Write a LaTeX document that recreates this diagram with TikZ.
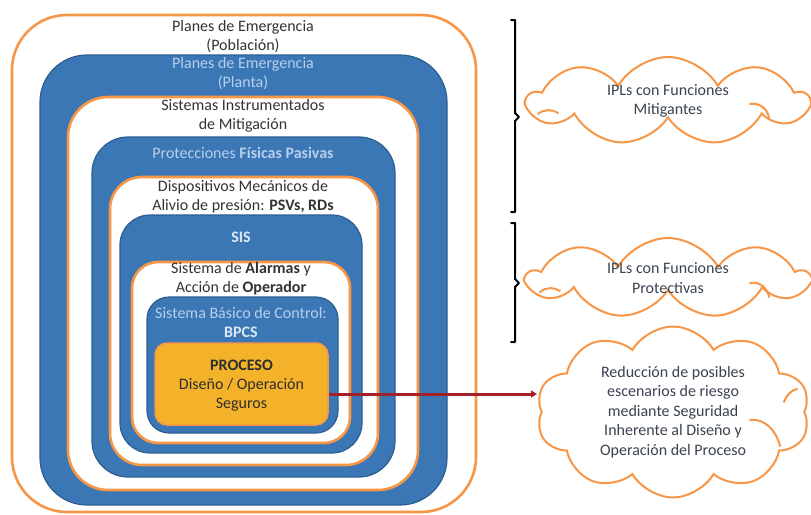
\documentclass[tikz,border=0pt]{standalone}
\usepackage{fontspec}
\setmainfont{Carlito}
\usetikzlibrary{shapes.symbols,arrows.meta,calc}
\definecolor{layerblue}{HTML}{3B77B5}
\definecolor{blueedge}{HTML}{2C5E93}
\definecolor{ringorange}{HTML}{F79646}
\definecolor{procfill}{HTML}{F4B22B}
\definecolor{darktext}{HTML}{333333}
\definecolor{cloudtext}{HTML}{3A4350}
\definecolor{paletext}{HTML}{B7CFEC}
\definecolor{whitish}{HTML}{DCE7F4}
\definecolor{arrowred}{HTML}{A3212B}
\tikzset{
  whitering/.style={draw=ringorange, line width=2.6pt, fill=white},
  bluering/.style={draw=blueedge, line width=1.2pt, fill=layerblue},
  lbl/.style={align=center, font=\fontsize{16}{19}\selectfont, inner sep=0pt},
  darklbl/.style={lbl, text=darktext},
  palelbl/.style={lbl, text=paletext},
  cloudbox/.style={cloud, cloud puffs=9, cloud puff arc=120, cloud ignores aspect,
    draw=ringorange, line width=2pt, fill=white, inner sep=0pt, align=center,
    font=\fontsize{16}{19.5}\selectfont, text=cloudtext},
  curl/.style={draw=ringorange, line width=2pt, line cap=round},
  bracketline/.style={draw=black, line width=2pt, line cap=round, line join=round},
}
\begin{document}
\begin{tikzpicture}[x=1pt,y=-1pt]
\useasboundingbox (0,0) rectangle (811,514);

% nested protection layers, outermost first
\draw[whitering, rounded corners=55pt] (12,15) rectangle (476,512);
\draw[bluering, rounded corners=47pt] (40,55) rectangle (447,505);
\draw[whitering, rounded corners=40pt] (68,97) rectangle (418,490);
\draw[bluering, rounded corners=36pt] (92,137) rectangle (395,477);
\draw[whitering, rounded corners=32pt] (110,177) rectangle (378,465);
\draw[bluering, rounded corners=30pt] (120,215) rectangle (362,453);
\draw[whitering, rounded corners=26pt] (132,262) rectangle (350,443);
\draw[bluering, rounded corners=22pt] (147,297) rectangle (338,433);

% process core
\node[draw=ringorange, line width=1.5pt, fill=procfill, rounded corners=12pt,
      minimum width=173pt, minimum height=82pt, inner sep=0pt] (proc) at (241.5,384) {};
\node[darklbl, text=black!82] (proct) at (241.5,386)
  {\textbf{PROCESO}\\Diseño / Operación\\Seguros};

% layer captions
\node[darklbl] (l1) at (243,37) {Planes de Emergencia\\(Población)};
\node[palelbl] (l2) at (243,74) {Planes de Emergencia\\(Planta)};
\node[darklbl] (l3) at (243,116) {Sistemas Instrumentados\\de Mitigación};
\node[palelbl] (l4) at (243,153) {Protecciones \textbf{Físicas Pasivas}};
\node[darklbl] (l5) at (243,197) {Dispositivos Mecánicos de\\Alivio de presión: \textbf{PSVs, RDs}};
\node[lbl, text=whitish] (l6) at (241,237) {\textbf{SIS}};
\node[darklbl] (l7) at (241,279) {Sistema de \textbf{Alarmas} y\\Acción de \textbf{Operador}};
\node[palelbl] (l8) at (241,322) {Sistema Básico de Control:\\\textcolor{whitish}{\textbf{BPCS}}};

% grouping brackets
\draw[bracketline] (511,20) -- (515,20) -- (515,113) -- (519,117) -- (515,121) -- (515,212) -- (511,212);
\draw[bracketline] (511,223) -- (515,223) -- (515,279) -- (519,283) -- (515,287) -- (515,342) -- (511,342);

% callout clouds
\node[cloudbox, minimum width=280pt, minimum height=88pt] (c1) at (668,101)
  {IPLs con Funciones\\Mitigantes};
\node[cloudbox, minimum width=280pt, minimum height=80pt] (c2) at (668,278)
  {IPLs con Funciones\\Protectivas};
\node[cloudbox, cloud puffs=10, minimum width=273pt, minimum height=171pt] (c3) at (673,412)
  {Reducción de posibles\\escenarios de riesgo\\mediante Seguridad\\Inherente al Diseño y\\Operación del Proceso};

% inner curls of the clouds
\draw[curl] (538,114) .. controls (544,109) and (552,109) .. (558,113);
\draw[curl] (750,104) .. controls (760,102) and (768,110) .. (769,118);
\draw[curl] (540,292) .. controls (546,287) and (554,287) .. (560,291);
\draw[curl] (750,283) .. controls (760,281) and (768,289) .. (769,297);
\draw[curl] (750,420) .. controls (764,418) and (776,430) .. (780,446);
\draw[curl] (784,402) .. controls (787,394) and (792,390) .. (797,389);

% link from the process core to its callout
\coordinate (tip) at (537,394);
\draw[draw=arrowred, line width=3pt, -{Triangle[length=6pt,width=7pt]}] (proc.east |- tip) -- (tip);
\end{tikzpicture}
\end{document}
